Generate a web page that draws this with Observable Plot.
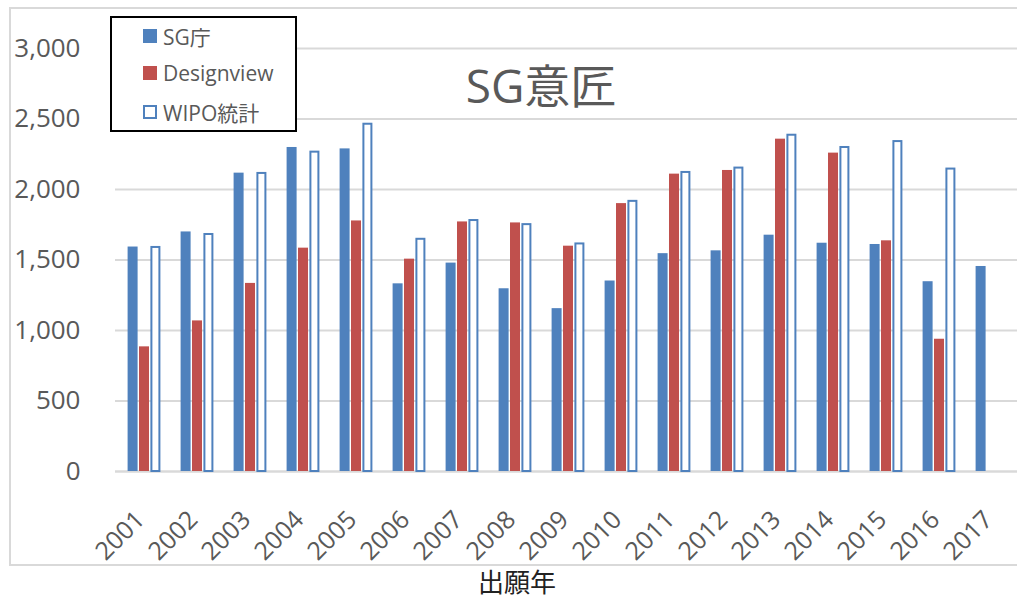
<!DOCTYPE html>
<html>
<head>
<meta charset="utf-8">
<script src="https://cdn.jsdelivr.net/npm/d3@7"></script>
<script src="https://cdn.jsdelivr.net/npm/@observablehq/plot@0.6"></script>
<style>
  html, body { margin: 0; padding: 0; background: #fff; }
  #wrap { position: relative; width: 1017px; height: 598px; overflow: hidden;
          font-family: "Open Sans", "Noto Sans CJK JP", sans-serif; }
  #wrap svg { position: absolute; left: 0; top: 0; }
  #frame { position: absolute; left: 9px; top: 7px; width: 1030px; height: 559px;
           border: 2px solid #d9d9d9; box-sizing: border-box; }
  #title { position: absolute; left: 391px; width: 300px; top: 62px; text-align: center;
           font-size: 46px; line-height: 46px; color: #595959; }
  #legend { position: absolute; left: 110px; top: 16px; width: 187px; height: 116px;
            border: 2px solid #000; box-sizing: border-box; background: #fff; }
  .item { position: absolute; left: 31px; height: 24px; display: flex; align-items: center;
          font-size: 21px; color: #595959; white-space: nowrap; }
  .sw { width: 14px; height: 14px; margin-right: 6px; box-sizing: border-box; }
  #xlabel { position: absolute; left: 417px; width: 200px; bottom: 0px; text-align: center;
            font-size: 26px; line-height: 34px; color: #222; font-family: "Noto Sans CJK JP", sans-serif; }
</style>
</head>
<body>
<div id="wrap">
  <div id="frame"></div>
</div>
<script>
const years = ["2001","2002","2003","2004","2005","2006","2007","2008","2009","2010","2011","2012","2013","2014","2015","2016","2017"];
const sgValues   = [1592, 1699, 2116, 2298, 2288, 1331, 1478, 1296, 1155, 1351, 1545, 1565, 1676, 1619, 1610, 1346, 1454];
const dvValues   = [ 884, 1068, 1334, 1584, 1777, 1506, 1770, 1763, 1598, 1900, 2109, 2135, 2357, 2258, 1636,  938, null];
const wipoValues = [1596, 1688, 2121, 2272, 2470, 1654, 1787, 1758, 1621, 1923, 2128, 2159, 2392, 2305, 2347, 2152, null];
const seriesNames = ["SG庁", "Designview", "WIPO統計"];
const seriesColors = ["#4f81bd", "#c0504d", "#4f81bd"];
const yTicks = [0, 500, 1000, 1500, 2000, 2500, 3000];

const toRows = (vals) => years.map((y, i) => ({year: y, value: vals[i]})).filter(d => d.value != null);
const sgRows = toRows(sgValues);
const dvRows = toRows(dvValues);
const wipoRows = toRows(wipoValues);

const chart = Plot.plot({
  width: 1017,
  height: 598,
  marginLeft: 115,
  marginRight: -3,
  marginTop: 48,
  marginBottom: 127,
  style: {fontFamily: '"Open Sans", "Noto Sans CJK JP", sans-serif', color: "#595959", background: "transparent", overflow: "visible"},
  x: {type: "band", domain: years, paddingInner: 0.812, paddingOuter: 0.406, label: null},
  y: {domain: [0, 3000], label: null},
  marks: [
    Plot.gridY(yTicks, {stroke: "#d9d9d9", strokeOpacity: 1, strokeWidth: 2}),
    Plot.ruleY([0], {stroke: "#d9d9d9", strokeWidth: 2}),
    Plot.barY(sgRows, {x: "year", y: "value", fill: seriesColors[0], dx: -11.4}),
    Plot.barY(dvRows, {x: "year", y: "value", fill: seriesColors[1], dx: 0}),
    Plot.barY(wipoRows, {x: "year", y: "value", fill: "#ffffff", stroke: seriesColors[2], strokeWidth: 2, insetLeft: 1, insetRight: 1, insetTop: 1, dx: 11.4}),
    Plot.axisY(yTicks, {tickSize: 0, tickPadding: 35, fontSize: 26, tickFormat: d3.format(","), fill: "#595959", label: null}),
    Plot.axisX({tickSize: 0, tickPadding: 44, dx: -4, tickRotate: -45, fontSize: 25, fill: "#595959", label: null})
  ]
});
const wrap = document.getElementById("wrap");
wrap.appendChild(chart);

const title = document.createElement("div");
title.id = "title";
title.textContent = "SG意匠";
wrap.appendChild(title);

const legend = document.createElement("div");
legend.id = "legend";
const rowTops = [6, 43, 82];
seriesNames.forEach((name, i) => {
  const it = document.createElement("div");
  it.className = "item";
  it.style.top = rowTops[i] + "px";
  const sw = document.createElement("span");
  sw.className = "sw";
  if (i === 2) { sw.style.border = "2px solid " + seriesColors[i]; sw.style.background = "#fff"; }
  else sw.style.background = seriesColors[i];
  it.appendChild(sw);
  const t = document.createElement("span");
  t.textContent = name;
  it.appendChild(t);
  legend.appendChild(it);
});
wrap.appendChild(legend);

const xl = document.createElement("div");
xl.id = "xlabel";
xl.textContent = "出願年";
wrap.appendChild(xl);
</script>
</body>
</html>
